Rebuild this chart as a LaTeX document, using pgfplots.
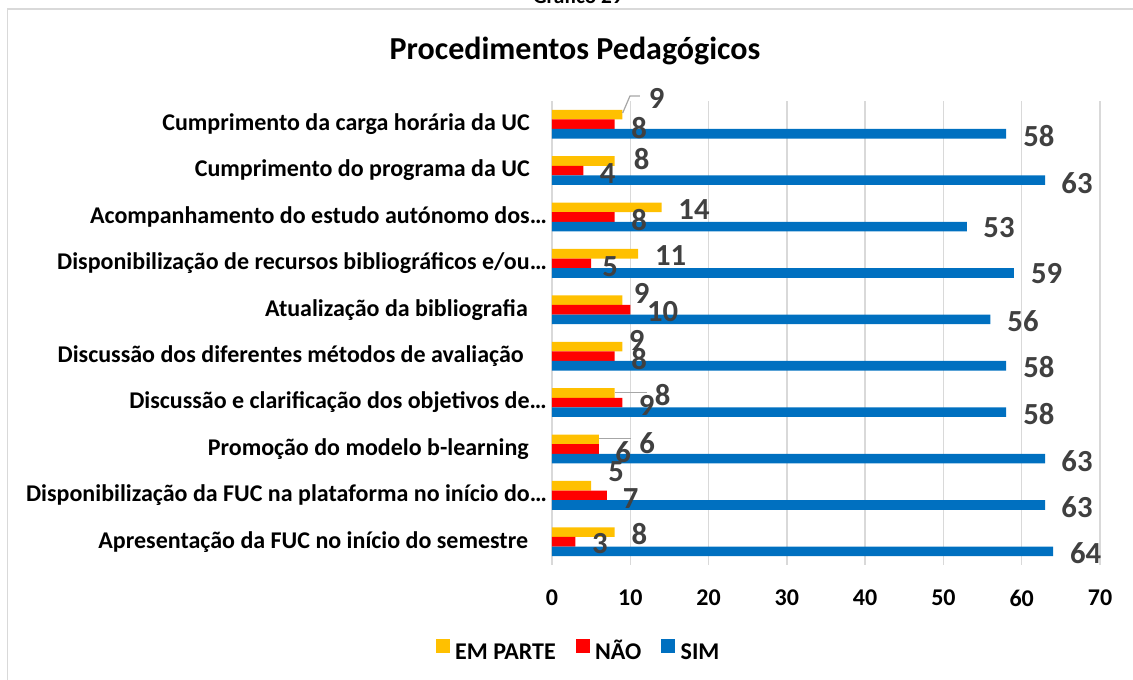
\documentclass[border=0pt]{standalone}
\usepackage{pgfplots}
\pgfplotsset{compat=1.18}
\usepackage{pgfplotstable}
\usepackage{fontspec}
\setmainfont{Carlito}
\definecolor{cY}{HTML}{FFC000}
\definecolor{cR}{HTML}{FF0000}
\definecolor{cB}{HTML}{0070C0}
\definecolor{lbl}{HTML}{404040}
\definecolor{grd}{HTML}{D9D9D9}
\definecolor{ldr}{HTML}{A6A6A6}

% c = category (0 bottom ... 9 top), v = value, dx/dy = label offset in px
\pgfplotstableread{
c v dx dy
9 9 34.2 16.3
8 8 27.1 2.0
7 14 32.4 -2.6
6 11 32.6 -2.2
5 9 19.2 7.2
4 9 14.2 6.6
3 8 48.1 -2.0
2 6 48.3 -3.3
1 5 24.9 14.1
0 8 24.7 -1.8
}\emparte
\pgfplotstableread{
c v dx dy
9 8 24.4 -3.8
8 4 24.4 -3.4
7 8 24.4 -3.0
6 5 18.9 -3.3
5 10 32.4 -1.9
4 8 24.4 -2.8
3 9 24.2 -2.4
2 6 24.3 -2.7
1 7 23.9 -2.9
0 3 24.5 -2.2
}\nao
\pgfplotstableread{
c v dx dy
9 58 32.9 -1.9
8 63 31.8 -2.5
7 53 32.1 -1.4
6 59 32.8 -1.0
5 56 32.6 -1.6
4 58 32.9 -1.2
3 58 32.9 -1.8
2 63 31.8 -2.1
1 63 31.8 -1.7
0 64 32.6 -1.3
}\sim

\begin{document}
\begin{tikzpicture}
\useasboundingbox (0,0) rectangle (849.75pt,510pt);
\begin{scope}
\clip (0,0) rectangle (849.75pt,510pt);
\draw[grd, line width=1.1pt] (5.6pt,-2pt) -- (5.6pt,503.25pt) -- (852pt,503.25pt);
\node[font=\bfseries\fontsize{16pt}{19pt}\selectfont, anchor=base] at (433.5pt,507pt) {Gráfico 29};
\node[font=\bfseries\fontsize{24pt}{28pt}\selectfont, anchor=base] at (431.25pt,465pt) {Procedimentos Pedagógicos};
\begin{axis}[
  at={(414pt,86.25pt)}, anchor=south west,
  scale only axis, width=411pt, height=348pt,
  xbar, bar width=7.2pt,
  xmin=0, xmax=70, ymin=-0.5, ymax=9.5, enlargelimits=false,
  xtick={0,10,...,70}, ytick={0,...,9},
  yticklabels={
    Apresentação da FUC no início do semestre\kern14pt,
    Disponibilização da FUC na plataforma no início do…,
    Promoção do modelo b-learning\kern13.5pt,
    Discussão e clarificação dos objetivos de…,
    Discussão dos diferentes métodos de avaliação\kern17.25pt,
    Atualização da bibliografia\kern14.25pt,
    Disponibilização de recursos bibliográficos e/ou…,
    Acompanhamento do estudo autónomo dos…,
    Cumprimento do programa da UC\kern12.75pt,
    Cumprimento da carga horária da UC\kern12.75pt},
  xmajorgrids, grid style={grd, line width=1.1pt},
  axis line style={draw=none}, major tick length=0pt,
  tick label style={font=\bfseries\fontsize{18pt}{21pt}\selectfont, text=black},
  xticklabel style={anchor=north, inner sep=0pt, yshift=-18.4pt},
  yticklabel style={anchor=east, inner sep=0pt, xshift=-3.75pt},
  /pgf/number format/assume math mode=true,
  clip=false,
  point meta=x,
  nodes near coords,
  nodes near coords style={font=\bfseries\fontsize{23pt}{27pt}\selectfont, text=lbl, anchor=center, inner sep=0pt, shift={({\dx*0.75pt},{\dy*0.75pt})}},
  visualization depends on={\thisrow{dx} \as \dx},
  visualization depends on={\thisrow{dy} \as \dy},
  legend columns=3,
  legend style={draw=none, fill=none, at={(0.048,-0.183)}, anchor=center,
    font=\bfseries\fontsize{18pt}{21pt}\selectfont,
    nodes={text height=12.5pt, text depth=0pt, inner sep=1pt},
    /tikz/every even column/.append style={column sep=14pt},
    /tikz/every odd column/.append style={column sep=3pt}},
  legend image code/.code={\fill[#1] (0pt,-1pt) rectangle (10.5pt,9.5pt);},
]
\addplot[fill=cY, draw=none, bar shift=7.2pt] table[x=v, y=c] {\emparte};
\addlegendentry{EM PARTE}
\addplot[fill=cR, draw=none, bar shift=0pt] table[x=v, y=c] {\nao};
\addlegendentry{NÃO}
\addplot[fill=cB, draw=none, bar shift=-7.2pt] table[x=v, y=c] {\sim};
\addlegendentry{SIM}
\draw[ldr, line width=0.9pt] (axis cs:9.03,9.241) -- (axis cs:9.96,9.608) -- (axis cs:11.24,9.608);
\draw[ldr, line width=0.9pt] (axis cs:8.05,3.213) -- (axis cs:12.10,3.213);
\draw[ldr, line width=0.9pt] (axis cs:6.04,2.231) -- (axis cs:10.05,2.231);
\end{axis}
\end{scope}
\end{tikzpicture}
\end{document}
